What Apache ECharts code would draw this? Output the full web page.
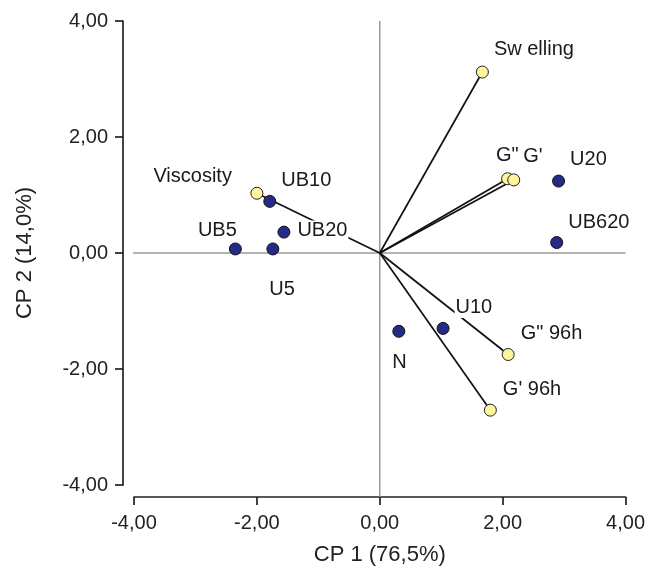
<!DOCTYPE html>
<html><head><meta charset="utf-8">
<script src="https://cdn.jsdelivr.net/npm/echarts@6/dist/echarts.min.js"></script>
<style>html,body{margin:0;padding:0;background:#fff}#c{width:648px;height:571px}</style>
</head><body><div id="c"></div>
<script>
// Scores (observations)
var scoreNames = ['U20', 'UB620', 'U10', 'N', 'UB10', 'UB20', 'UB5', 'U5'];
var scoreX = [2.91, 2.88, 1.03, 0.31, -1.79, -1.56, -2.35, -1.74];
var scoreY = [1.24, 0.18, -1.30, -1.35, 0.89, 0.36, 0.07, 0.07];
// Loadings (variables)
var loadNames = ['Sw elling', 'G"', "G'", 'G" 96h', "G' 96h", 'Viscosity'];
var loadX = [1.67, 2.08, 2.18, 2.09, 1.80, -2.00];
var loadY = [3.12, 1.28, 1.26, -1.75, -2.71, 1.03];
var tickMin = -4, tickMax = 4, tickStep = 2;

// label placement (pixel offsets of label left edge / vertical centre from point)
var labelOffsets = {
  'U20': [11, -21], 'UB620': [11, -20], 'U10': [12, -20], 'N': [-7, 32],
  'UB10': [11, -20], 'UB20': [13, -1], 'UB5': [-38, -18], 'U5': [-4, 41],
  'Sw elling': [11, -22], 'G"': [-12, -23], "G'": [9, -23],
  'G" 96h': [12, -21], "G' 96h": [12, -20], 'Viscosity': [-104, -16]
};

var FONT = 'Liberation Sans, Arial, sans-serif';
var SYM = 12;
function pt(name, x, y) {
  var o = labelOffsets[name];
  return {
    value: [x, y], name: name,
    label: {
      show: true, formatter: name, position: [SYM / 2 + o[0], SYM / 2 + o[1]],
      align: 'left', verticalAlign: 'middle', color: '#1a1a1a',
      fontFamily: FONT, fontSize: 20, backgroundColor: '#fff', padding: [0, 1]
    }
  };
}

var series = [];
// zero reference lines extended to offset axes
var offX = 11 / 61.6, offY = 12 / 58.1;
series.push({type: 'line', clip: false, silent: true, symbol: 'none', z: 1,
  data: [[0, tickMin - offY], [0, tickMax]], lineStyle: {color: '#9a9a9a', width: 1.5}});
series.push({type: 'line', clip: false, silent: true, symbol: 'none', z: 1,
  data: [[tickMin - offX, 0], [tickMax, 0]], lineStyle: {color: '#9a9a9a', width: 1.5}});
// loading vectors
for (var i = 0; i < loadNames.length; i++) {
  series.push({type: 'line', silent: true, symbol: 'none', z: 2,
    data: [[0, 0], [loadX[i], loadY[i]]], lineStyle: {color: '#111', width: 1.7}});
}
series.push({type: 'scatter', z: 5, symbolSize: SYM,
  itemStyle: {color: '#fff59d', borderColor: '#222', borderWidth: 1, opacity: 1},
  data: loadNames.map(function (n, i) { return pt(n, loadX[i], loadY[i]); })});
series.push({type: 'scatter', z: 6, symbolSize: SYM,
  itemStyle: {color: '#232b86', borderColor: '#111', borderWidth: 1, opacity: 1},
  data: scoreNames.map(function (n, i) { return pt(n, scoreX[i], scoreY[i]); })});

function fmt(v) { return v.toFixed(2).replace('.', ','); }
var axisCommon = {
  type: 'value', min: tickMin, max: tickMax, interval: tickStep,
  splitLine: {show: false},
  axisLine: {show: true, onZero: false, lineStyle: {color: '#222', width: 1.7}},
  axisTick: {show: true, length: 8, lineStyle: {color: '#222', width: 1.7}},
  axisLabel: {formatter: fmt, color: '#222', fontFamily: FONT, fontSize: 20},
  nameLocation: 'middle',
  nameTextStyle: {color: '#222', fontFamily: FONT, fontSize: 22}
};
var chart = echarts.init(document.getElementById('c'), null, {renderer: 'canvas'});
chart.setOption({
  animation: false,
  backgroundColor: '#fff',
  grid: {left: 134, right: 21, top: 21, bottom: 86, containLabel: false},
  xAxis: Object.assign({}, axisCommon, {offset: 12, name: 'CP 1 (76,5%)', nameGap: 47,
    axisLabel: Object.assign({}, axisCommon.axisLabel, {margin: 16})}),
  yAxis: Object.assign({}, axisCommon, {offset: 11, name: 'CP 2 (14,0%)', nameGap: 87,
    axisLabel: Object.assign({}, axisCommon.axisLabel, {margin: 15})}),
  series: series
});
</script></body></html>
